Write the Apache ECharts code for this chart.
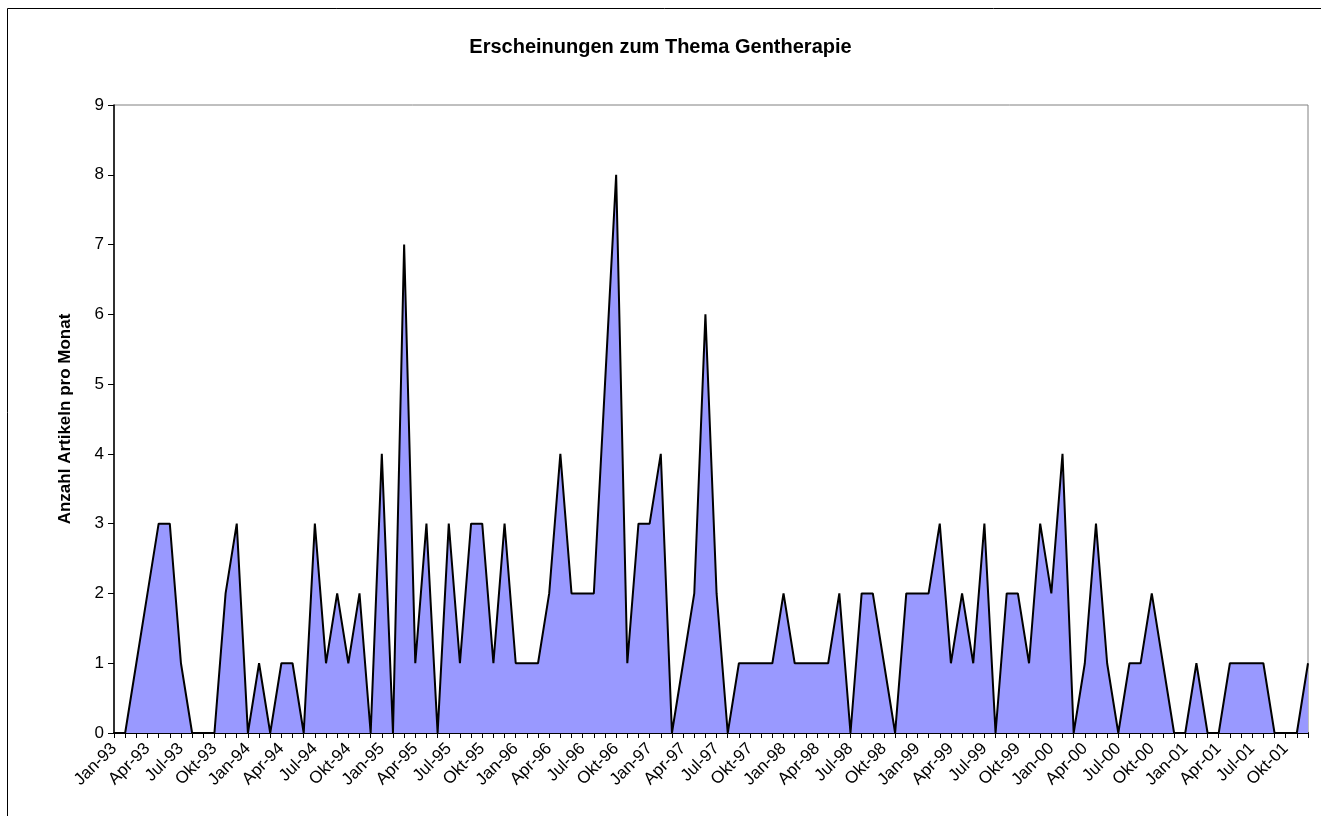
<!DOCTYPE html>
<html>
<head>
<meta charset="utf-8">
<title>Erscheinungen zum Thema Gentherapie</title>
<script src="https://cdn.jsdelivr.net/npm/echarts@6/dist/echarts.min.js"></script>
<style>
  html, body { margin: 0; padding: 0; background: #ffffff; }
  #chart { width: 1321px; height: 816px; }
</style>
</head>
<body>
<div id="chart"></div>
<script>
// Monthly article counts on gene therapy, Jan 1993 - Dec 2001
const monthNames = ['Jan', 'Feb', 'Mär', 'Apr', 'Mai', 'Jun', 'Jul', 'Aug', 'Sep', 'Okt', 'Nov', 'Dez'];
const years = ['93', '94', '95', '96', '97', '98', '99', '00', '01'];

const articles1993 = [0, 0, 1, 2, 3, 3, 1, 0, 0, 0, 2, 3];
const articles1994 = [0, 1, 0, 1, 1, 0, 3, 1, 2, 1, 2, 0];
const articles1995 = [4, 0, 7, 1, 3, 0, 3, 1, 3, 3, 1, 3];
const articles1996 = [1, 1, 1, 2, 4, 2, 2, 2, 5, 8, 1, 3];
const articles1997 = [3, 4, 0, 1, 2, 6, 2, 0, 1, 1, 1, 1];
const articles1998 = [2, 1, 1, 1, 1, 2, 0, 2, 2, 1, 0, 2];
const articles1999 = [2, 2, 3, 1, 2, 1, 3, 0, 2, 2, 1, 3];
const articles2000 = [2, 4, 0, 1, 3, 1, 0, 1, 1, 2, 1, 0];
const articles2001 = [0, 1, 0, 0, 1, 1, 1, 1, 0, 0, 0, 1];

const yTicks = [0, 1, 2, 3, 4, 5, 6, 7, 8, 9];

// Category labels such as "Jan-93"
const categories = [];
years.forEach(function (y) {
  monthNames.forEach(function (m) { categories.push(m + '-' + y); });
});

const counts = [].concat(articles1993, articles1994, articles1995, articles1996,
  articles1997, articles1998, articles1999, articles2000, articles2001);

const FONT = '"Liberation Sans", Arial, Helvetica, sans-serif';

const chart = echarts.init(document.getElementById('chart'), null, { renderer: 'canvas' });

chart.setOption({
  animation: false,
  backgroundColor: '#ffffff',
  textStyle: { fontFamily: FONT, color: '#000000' },
  title: {
    text: 'Erscheinungen zum Thema Gentherapie',
    left: 'center',
    top: 32,
    textStyle: { fontFamily: FONT, fontSize: 20, fontWeight: 'bold', color: '#000000' }
  },
  graphic: [{
    type: 'rect',
    shape: { x: 7.5, y: 8.5, width: 1400, height: 900 },
    style: { fill: 'none', stroke: '#000000', lineWidth: 1 },
    silent: true
  }],
  grid: {
    left: 114, right: 13, top: 105, bottom: 83,
    show: true, borderColor: '#808080', borderWidth: 1, backgroundColor: 'transparent'
  },
  xAxis: {
    type: 'category',
    data: categories,
    boundaryGap: false,
    axisLine: { lineStyle: { color: '#000000', width: 2 } },
    axisTick: { show: true, interval: 0, length: 5, lineStyle: { color: '#000000', width: 1 } },
    axisLabel: {
      interval: 2, rotate: 45, margin: 13,
      fontFamily: FONT, fontSize: 17, color: '#000000'
    },
    splitLine: { show: false }
  },
  yAxis: {
    type: 'value',
    min: yTicks[0], max: yTicks[yTicks.length - 1], interval: 1,
    name: 'Anzahl Artikeln pro Monat',
    nameLocation: 'middle',
    nameGap: 40,
    nameTextStyle: { fontFamily: FONT, fontSize: 17, fontWeight: 'bold', color: '#000000' },
    axisLine: { show: true, lineStyle: { color: '#000000', width: 1.5 } },
    axisTick: { show: true, length: 6, lineStyle: { color: '#000000', width: 1 } },
    axisLabel: { margin: 10, fontFamily: FONT, fontSize: 17, color: '#000000' },
    splitLine: { show: false }
  },
  series: [{
    type: 'line',
    data: counts,
    showSymbol: false,
    symbol: 'none',
    lineStyle: { color: '#000000', width: 2 },
    areaStyle: { color: '#9999FF', opacity: 1 },
    z: 2
  }]
});
</script>
</body>
</html>
